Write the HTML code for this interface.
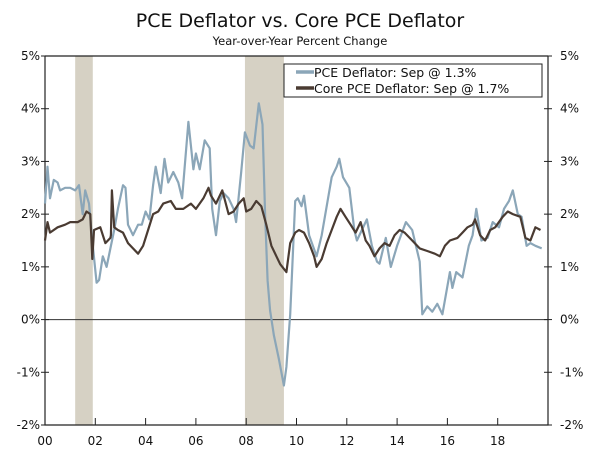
<!DOCTYPE html>
<html><head><meta charset="utf-8"><style>
body{margin:0;background:#fff;}
svg{display:block;font-family:"DejaVu Sans","Liberation Sans",sans-serif;}
</style></head><body>
<svg id="chart" width="600" height="453" viewBox="0 0 600 453">
<text x="300" y="27" text-anchor="middle" font-size="19" fill="#111">PCE Deflator vs. Core PCE Deflator</text>
<text x="300" y="45" text-anchor="middle" font-size="11.5" fill="#111">Year-over-Year Percent Change</text>
<g id="shades"></g>
<g id="axes"></g>
<g id="series"></g>
<g>
<rect x="284" y="64" width="258" height="33" fill="#fff" stroke="#222" stroke-width="1"/>
<line x1="296" y1="72" x2="314" y2="72" stroke="#8ba6b8" stroke-width="3.5"/>
<text x="314" y="77" font-size="12.5" fill="#111">PCE Deflator: Sep @ 1.3%</text>
<line x1="296" y1="88" x2="314" y2="88" stroke="#4a3b32" stroke-width="3.5"/>
<text x="314" y="93" font-size="12.5" fill="#111">Core PCE Deflator: Sep @ 1.7%</text>
</g>
</svg>
<script>
const recessions=[[2001.2,2001.9],[2007.95,2009.5]];
const yTicks=[-2,-1,0,1,2,3,4,5];
const xTickYears=[2000,2002,2004,2006,2008,2010,2012,2014,2016,2018];
const xTickLabels=["00","02","04","06","08","10","12","14","16","18"];
const pceDates=[0.0,0.1,0.2,0.35,0.5,0.6,0.8,1.0,1.2,1.35,1.5,1.6,1.75,1.9,2.05,2.15,2.3,2.45,2.6,2.75,2.9,3.1,3.2,3.3,3.5,3.7,3.85,4.0,4.15,4.3,4.4,4.6,4.75,4.9,5.1,5.3,5.45,5.7,5.9,6.0,6.15,6.35,6.55,6.65,6.8,6.95,7.1,7.3,7.5,7.6,7.8,7.95,8.15,8.3,8.5,8.65,8.75,8.85,8.95,9.1,9.3,9.5,9.6,9.75,9.95,10.05,10.2,10.3,10.5,10.8,11.0,11.4,11.6,11.7,11.85,12.1,12.3,12.4,12.8,13.0,13.2,13.3,13.55,13.75,14.0,14.35,14.6,14.9,15.0,15.2,15.4,15.6,15.8,16.1,16.2,16.35,16.6,16.85,17.0,17.15,17.35,17.6,17.8,18.05,18.25,18.45,18.6,18.8,18.95,19.15,19.3,19.5,19.75].map(d=>2000+d);
const pceValues=[2.2,2.9,2.3,2.65,2.6,2.45,2.5,2.5,2.45,2.55,2.0,2.45,2.2,1.4,0.7,0.75,1.2,1.0,1.35,1.7,2.1,2.55,2.5,1.8,1.6,1.8,1.8,2.05,1.9,2.55,2.9,2.4,3.05,2.6,2.8,2.6,2.3,3.75,2.85,3.15,2.85,3.4,3.25,2.1,1.6,2.25,2.4,2.3,2.1,1.85,2.8,3.55,3.3,3.25,4.1,3.7,2.0,0.74,0.17,-0.3,-0.75,-1.25,-0.9,0.1,2.25,2.3,2.15,2.35,1.6,1.2,1.6,2.7,2.9,3.05,2.7,2.5,1.7,1.5,1.9,1.4,1.1,1.06,1.55,1.0,1.4,1.85,1.7,1.1,0.1,0.25,0.15,0.3,0.1,0.9,0.6,0.9,0.8,1.4,1.6,2.1,1.5,1.55,1.85,1.75,2.1,2.25,2.45,2.0,1.95,1.4,1.45,1.4,1.35];
const coreDates=[0.0,0.1,0.2,0.5,0.8,1.0,1.3,1.5,1.65,1.8,1.88,1.95,2.2,2.4,2.6,2.62,2.66,2.75,2.9,3.1,3.3,3.5,3.7,3.9,4.1,4.3,4.5,4.7,5.0,5.2,5.5,5.8,6.0,6.3,6.5,6.6,6.8,7.05,7.3,7.5,7.7,7.9,8.0,8.2,8.4,8.6,8.8,9.0,9.2,9.35,9.6,9.75,9.95,10.1,10.3,10.5,10.7,10.8,11.0,11.2,11.4,11.6,11.75,11.95,12.15,12.35,12.55,12.75,12.9,13.1,13.3,13.5,13.7,13.9,14.1,14.3,14.6,14.9,15.2,15.5,15.7,15.9,16.1,16.4,16.6,16.8,17.0,17.1,17.3,17.5,17.7,17.9,18.2,18.4,18.6,18.9,19.1,19.3,19.5,19.7].map(d=>2000+d);
const coreValues=[1.5,1.85,1.65,1.75,1.8,1.85,1.85,1.9,2.05,2.0,1.15,1.7,1.75,1.45,1.55,1.6,2.45,1.75,1.7,1.65,1.45,1.35,1.25,1.4,1.7,2.0,2.05,2.2,2.25,2.1,2.1,2.2,2.1,2.3,2.5,2.35,2.2,2.45,2.0,2.05,2.2,2.3,2.05,2.1,2.25,2.15,1.8,1.4,1.2,1.05,0.9,1.45,1.65,1.7,1.65,1.45,1.2,1.0,1.15,1.45,1.7,1.95,2.1,1.95,1.8,1.65,1.85,1.5,1.4,1.2,1.35,1.45,1.4,1.6,1.7,1.65,1.5,1.35,1.3,1.25,1.2,1.4,1.5,1.55,1.65,1.75,1.8,1.9,1.6,1.5,1.7,1.75,1.95,2.05,2.0,1.95,1.55,1.5,1.75,1.7];

const NS="http://www.w3.org/2000/svg";
const L=45,R=548,T=56,B=425;
const xS=y=>L+(y-2000)/20*(R-L);
const yS=v=>T+(5-v)/7*(B-T);
function mk(tag,attrs,parent){const e=document.createElementNS(NS,tag);for(const k in attrs)e.setAttribute(k,attrs[k]);parent.appendChild(e);return e;}
const shades=document.getElementById('shades'),axes=document.getElementById('axes'),series=document.getElementById('series');
recessions.forEach(r=>{
 const e=mk('rect',{x:xS(r[0]),y:T,width:xS(r[1])-xS(r[0]),height:B-T,fill:'#d6d1c4'},shades);
 
 
});
let f=mk('path',{d:`M${L},${T}H${R}M${L},${T}V${B}H${R}V${T}`,stroke:'#222','stroke-width':1.2,fill:'none'},axes);


let z=mk('line',{x1:L,x2:R,y1:yS(0),y2:yS(0),stroke:'#333','stroke-width':1},axes);


yTicks.forEach(v=>{
 const y=yS(v);
 mk('line',{x1:L-4,x2:L+4,y1:y,y2:y,stroke:'#222'},axes);
 mk('line',{x1:R-4,x2:R+4,y1:y,y2:y,stroke:'#222'},axes);
 const t1=mk('text',{x:L-5,y:y+4,'text-anchor':'end','font-size':12,fill:'#111'},axes);t1.textContent=v+'%';
 
 
 const t2=mk('text',{x:R+12,y:y+4,'font-size':12,fill:'#111'},axes);t2.textContent=v+'%';
 
 
});
xTickYears.forEach((yr,i)=>{
 const x=xS(yr);
 mk('line',{x1:x,x2:x,y1:B,y2:B-7,stroke:'#222'},axes);
 const t=mk('text',{x:x,y:B+20,'text-anchor':'middle','font-size':12,fill:'#111'},axes);t.textContent=xTickLabels[i];
 
 
});
function line(d,v){return d.map((t,i)=>(i?'L':'M')+xS(t).toFixed(1)+','+yS(v[i]).toFixed(1)).join('');}
const p1=mk('path',{d:line(pceDates,pceValues),stroke:'#8ba6b8','stroke-width':2.2,fill:'none','stroke-linejoin':'round'},series);


const p2=mk('path',{d:line(coreDates,coreValues),stroke:'#4a3b32','stroke-width':2.2,fill:'none','stroke-linejoin':'round'},series);


</script>
</body></html>
